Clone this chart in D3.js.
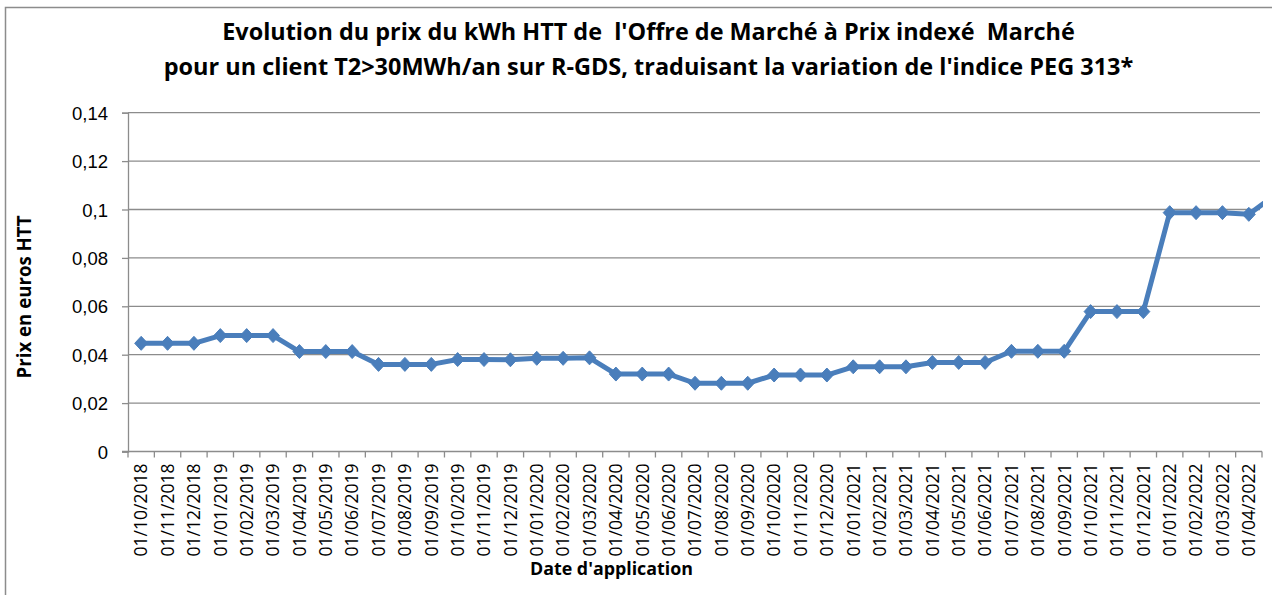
<!DOCTYPE html>
<html>
<head>
<meta charset="utf-8">
<script src="https://cdn.jsdelivr.net/npm/d3@7"></script>
<style>
  body { margin: 0; background: #fff; }
  svg { display: block; font-family: "Open Sans", "Noto Sans", sans-serif; }
  .grid line { stroke: #8c8c8c; stroke-width: 1.3; }
  .axis path, .axis line { stroke: #8c8c8c; stroke-width: 1.3; }
  .axis text { fill: #000; }
</style>
</head>
<body>
<div id="chart"></div>
<script>

// month of application (first day), as printed on the axis
var categories = [
  "01/10/2018", "01/11/2018", "01/12/2018",
  "01/01/2019", "01/02/2019", "01/03/2019", "01/04/2019", "01/05/2019", "01/06/2019",
  "01/07/2019", "01/08/2019", "01/09/2019", "01/10/2019", "01/11/2019", "01/12/2019",
  "01/01/2020", "01/02/2020", "01/03/2020", "01/04/2020", "01/05/2020", "01/06/2020",
  "01/07/2020", "01/08/2020", "01/09/2020", "01/10/2020", "01/11/2020", "01/12/2020",
  "01/01/2021", "01/02/2021", "01/03/2021", "01/04/2021", "01/05/2021", "01/06/2021",
  "01/07/2021", "01/08/2021", "01/09/2021", "01/10/2021", "01/11/2021", "01/12/2021",
  "01/01/2022", "01/02/2022", "01/03/2022", "01/04/2022"
];

// price per kWh (euros HTT); the last value lies past the axis and is clipped
var prices = [
  0.0447, 0.0447, 0.0447,
  0.0479, 0.0479, 0.0479, 0.0413, 0.0413, 0.0413,
  0.0360, 0.0360, 0.0360, 0.0380, 0.0380, 0.0379,
  0.0385, 0.0385, 0.0387, 0.0320, 0.0320, 0.0320,
  0.0282, 0.0282, 0.0282, 0.0316, 0.0316, 0.0316,
  0.0350, 0.0350, 0.0350, 0.0368, 0.0368, 0.0368,
  0.0414, 0.0414, 0.0414, 0.0578, 0.0578, 0.0578,
  0.0987, 0.0987, 0.0987, 0.0980,
  0.1060
];

var yTicks = [0, 0.02, 0.04, 0.06, 0.08, 0.1, 0.12, 0.14];

var titleLines = [
  "Evolution du prix du kWh HTT de  l'Offre de Marché à Prix indexé  Marché",
  "pour un client T2>30MWh/an sur R-GDS, traduisant la variation de l'indice PEG 313*"
];
var yTitle = "Prix en euros HTT";
var xTitle = "Date d'application";

var width = 1272, height = 595;
var margin = {left: 128, right: 10, top: 112.7, bottom: 143.5};

var svg = d3.select('#chart').append('svg')
  .attr('width', width)
  .attr('height', height);

// chart border (runs off the right and bottom of the picture)
svg.append('rect')
  .attr('x', 5.5).attr('y', 7.5)
  .attr('width', 1400).attr('height', 700)
  .attr('fill', 'none')
  .attr('stroke', '#8c8c8c')
  .attr('stroke-width', 1.5);

// shrink / grow a text node until it covers the wanted width
function fitText(sel, target) {
  var fs = parseFloat(sel.attr('font-size'));
  var w = sel.node().getComputedTextLength();
  sel.attr('font-size', (fs * target / w).toFixed(2));
}

var x = d3.scaleLinear()
  .domain([-0.5, categories.length - 0.5])
  .range([margin.left, width - margin.right]);

var y = d3.scaleLinear()
  .domain([0, 0.14])
  .range([height - margin.bottom, margin.top]);

// horizontal grid
svg.append('g').attr('class', 'grid')
  .selectAll('line')
  .data(yTicks.slice(1))
  .enter().append('line')
    .attr('x1', margin.left)
    .attr('x2', width - margin.right - 2)
    .attr('y1', function(d){ return y(d); })
    .attr('y2', function(d){ return y(d); });

// y axis
var yAxis = svg.append('g')
  .attr('class', 'axis')
  .attr('transform', 'translate(' + margin.left + ',0)')
  .call(d3.axisLeft(y)
    .tickValues(yTicks)
    .tickSize(6)
    .tickPadding(14)
    .tickFormat(function(d){ return String(+d.toFixed(2)).replace('.', ','); }));
yAxis.selectAll('text').attr('font-size', 18.5).attr('dy', '0.36em');

// x axis: ticks sit between the categories
var xAxisY = y(0);
var xAxis = svg.append('g').attr('class', 'axis');
xAxis.append('line')
  .attr('x1', margin.left - 6).attr('x2', width - margin.right)
  .attr('y1', xAxisY).attr('y2', xAxisY);
xAxis.selectAll('line.tick')
  .data(d3.range(categories.length + 1))
  .enter().append('line')
    .attr('class', 'tick')
    .attr('x1', function(i){ return x(i - 0.5); })
    .attr('x2', function(i){ return x(i - 0.5); })
    .attr('y1', xAxisY)
    .attr('y2', xAxisY + 6);
xAxis.selectAll('text')
  .data(categories)
  .enter().append('text')
    .text(function(d){ return d; })
    .attr('font-size', 17.5)
    .attr('text-anchor', 'end')
    .attr('dy', '0.36em')
    .attr('transform', function(d, i){
      return 'translate(' + x(i) + ',' + (xAxisY + 12) + ') rotate(-90)';
    });

// series, clipped to the plot area
svg.append('clipPath').attr('id', 'plot-clip')
  .append('rect')
    .attr('x', margin.left).attr('y', 0)
    .attr('width', width - margin.right - margin.left + 1)
    .attr('height', height);

var plot = svg.append('g').attr('clip-path', 'url(#plot-clip)');

var line = d3.line()
  .x(function(d, i){ return x(i); })
  .y(function(d){ return y(d); });

plot.append('path')
  .datum(prices)
  .attr('d', line)
  .attr('fill', 'none')
  .attr('stroke', '#4a7ebb')
  .attr('stroke-width', 5)
  .attr('stroke-linejoin', 'round');

plot.selectAll('path.marker')
  .data(prices)
  .enter().append('path')
    .attr('class', 'marker')
    .attr('d', 'M0,-7L6.5,0L0,7L-6.5,0Z')
    .attr('transform', function(d, i){ return 'translate(' + x(i) + ',' + y(d) + ')'; })
    .attr('fill', '#4a7ebb')
    .attr('stroke', '#4a7ebb')
    .attr('stroke-width', 1);

// titles
var titleWidths = [853, 970];
var titleY = [40, 75];
titleLines.forEach(function(t, i) {
  var tt = svg.append('text')
    .text(t)
    .attr('x', 648.5)
    .attr('y', titleY[i])
    .attr('text-anchor', 'middle')
    .attr('font-weight', 'bold')
    .attr('font-size', 20)
    .style('white-space', 'pre');
  fitText(tt, titleWidths[i]);
});

var yt = svg.append('text')
  .text(yTitle)
  .attr('text-anchor', 'middle')
  .attr('font-weight', 'bold')
  .attr('font-size', 16)
  .attr('transform', 'translate(31,297) rotate(-90)');
fitText(yt, 163);

var xt = svg.append('text')
  .text(xTitle)
  .attr('x', 611.5)
  .attr('y', 575)
  .attr('text-anchor', 'middle')
  .attr('font-weight', 'bold')
  .attr('font-size', 16);
fitText(xt, 163);

</script>
</body>
</html>
